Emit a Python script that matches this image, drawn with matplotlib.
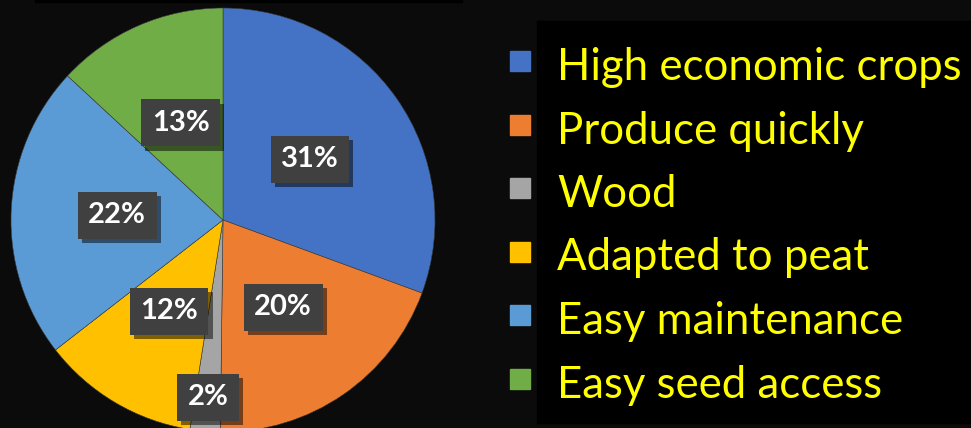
import matplotlib
matplotlib.use("Agg")
import matplotlib.pyplot as plt
from matplotlib.patches import Rectangle
import matplotlib.patheffects as pe
import numpy as np

categories = ["High economic crops", "Produce quickly", "Wood",
              "Adapted to peat", "Easy maintenance", "Easy seed access"]
values = [30.6, 19.6, 2.3, 12.0, 22.4, 13.1]
colors = ["#4472C4", "#ED7D31", "#A5A5A5", "#FFC000", "#5B9BD5", "#70AD47"]
label_dist = [0.5, 0.5, 0.84, 0.5, 0.5, 0.5]

W, H = 971, 428
fig = plt.figure(figsize=(W / 100, H / 100), dpi=100)
fig.patch.set_facecolor("#0b0b0b")

# thin black strip at the top
fig.patches.append(Rectangle((35 / W, 1 - 2 / H), 427 / W, 2 / H,
                             transform=fig.transFigure, color="black", zorder=0))

# pie: center (223, 220) px, radius 212 px
cx, cy, r = 223, 220, 212
ax = fig.add_axes([(cx - r) / W, (H - cy - r) / H, 2 * r / W, 2 * r / H])
ax.set_facecolor("none")
wedges, _ = ax.pie(values, colors=colors, startangle=90, counterclock=False,
                   radius=1, wedgeprops=dict(linewidth=0.4, edgecolor="#3a3a3a"))
ax.set_xlim(-1, 1)
ax.set_ylim(-1, 1)
ax.set_aspect("equal")
ax.axis("off")

total = sum(values)
for w, v, d in zip(wedges, values, label_dist):
    ang = np.deg2rad((w.theta1 + w.theta2) / 2)
    x, y = d * np.cos(ang), d * np.sin(ang)
    t = ax.text(x, y, f"{round(100 * v / total)}%", ha="center", va="center",
                fontsize=21, fontweight="bold", color="white", family="Lato",
                bbox=dict(boxstyle="square,pad=0.36", fc="#404040", ec="none"))
    t.get_bbox_patch().set_path_effects([
        pe.SimplePatchShadow(offset=(3, -3), shadow_rgbFace="black", alpha=0.5),
        pe.Normal()])

# legend box
fig.patches.append(Rectangle((537 / W, (H - 423) / H), (W - 537) / W, 402 / H,
                             transform=fig.transFigure, color="black", zorder=0))
top_baseline = 80
step = 63.5
for i, (lab, col) in enumerate(zip(categories, colors)):
    base = top_baseline + i * step
    fig.patches.append(Rectangle((510 / W, (H - base + 9) / H), 20 / W, 20 / H,
                                 transform=fig.transFigure, color=col, zorder=2))
    fig.text(557 / W, (H - base) / H, lab, color="#FFFF00", fontsize=31.5,
             family="Lato", va="baseline", ha="left")

fig.savefig("out.png", dpi=100, facecolor=fig.get_facecolor())
